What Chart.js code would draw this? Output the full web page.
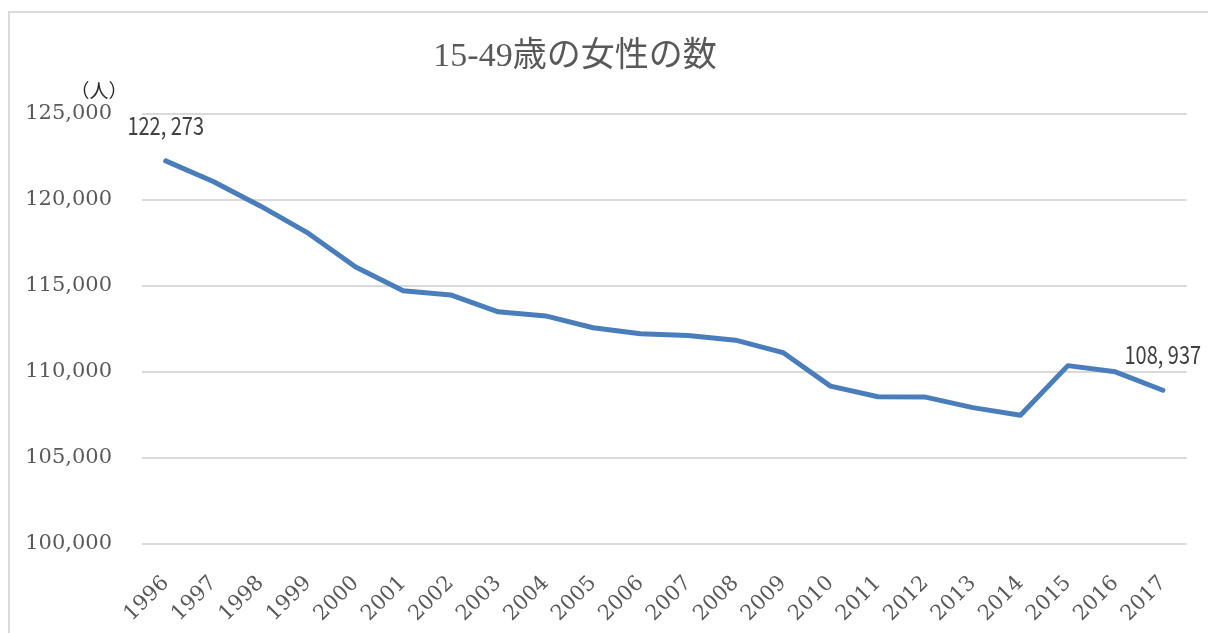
<!DOCTYPE html>
<html>
<head>
<meta charset="utf-8">
<script src="https://cdn.jsdelivr.net/npm/chart.js@4/dist/chart.umd.min.js"></script>
<style>
  html, body { margin: 0; padding: 0; background: #fff; overflow: hidden; }
  .frame { position: absolute; left: 8px; top: 11px; width: 1240px; height: 680px; border: 2px solid #d9d9d9; }
  .chart-box { position: absolute; left: 0; top: 0; width: 1208px; height: 633px; }
</style>
</head>
<body>
<div class="frame"></div>
<div class="chart-box"><canvas id="chart"></canvas></div>
<script>
// 15-49歳の女性の数
const years = ['1996', '1997', '1998', '1999', '2000', '2001', '2002', '2003', '2004', '2005', '2006',
               '2007', '2008', '2009', '2010', '2011', '2012', '2013', '2014', '2015', '2016', '2017'];
const women = [122273, 121080, 119640, 118070, 116100, 114720, 114480, 113500, 113260, 112570, 112230,
               112120, 111850, 111130, 109180, 108560, 108540, 107930, 107490, 110370, 110010, 108937];
const yTicks = [100000, 105000, 110000, 115000, 120000, 125000];

const chartTitle = '15-49歳の女性の数';
const unitLabel = '（人）';

// title + unit text, drawn where the original had them
const textPlugin = {
    id: 'textPlugin',
    afterDraw(chart) {
        const ctx = chart.ctx;
        ctx.save();
        ctx.fillStyle = '#595959';
        ctx.font = '34px "Liberation Serif", "Noto Sans CJK JP"';
        ctx.textAlign = 'center';
        ctx.textBaseline = 'middle';
        ctx.fillText(chartTitle, 575, 57);

        ctx.fillStyle = '#262626';
        ctx.font = '19px "Noto Sans CJK JP"';
        ctx.fillText(unitLabel, 99, 91);
        ctx.restore();
    }
};

// labels for first and last point (narrow gothic look)
const endLabels = {
    id: 'endLabels',
    afterDatasetsDraw(chart) {
        const ctx = chart.ctx;
        const meta = chart.getDatasetMeta(0);
        const data = chart.data.datasets[0].data;
        const sx = 0.8;
        ctx.save();
        ctx.fillStyle = '#404040';
        ctx.font = '25px "Noto Sans CJK JP"';
        ctx.textAlign = 'center';
        ctx.textBaseline = 'alphabetic';
        [0, data.length - 1].forEach((i) => {
            const pt = meta.data[i];
            const txt = data[i].toLocaleString('en-US').replace(',', ', ');
            ctx.save();
            ctx.translate(pt.x, pt.y - 26);
            ctx.scale(sx, 1);
            ctx.fillText(txt, 0, 0);
            ctx.restore();
        });
        ctx.restore();
    }
};

const ctx = document.getElementById('chart').getContext('2d');
new Chart(ctx, {
    type: 'line',
    data: {
        labels: years,
        datasets: [{
            label: '15-49歳の女性の数',
            data: women,
            borderColor: '#4a7ebb',
            backgroundColor: '#4a7ebb',
            borderWidth: 5,
            borderCapStyle: 'round',
            borderJoinStyle: 'round',
            pointRadius: 0,
            tension: 0,
            fill: false,
        }],
    },
    options: {
        responsive: true,
        maintainAspectRatio: false,
        animation: false,
        layout: { padding: { left: 0, right: 15, top: 114, bottom: 0 } },
        plugins: {
            legend: { display: false },
            title: { display: false },
            tooltip: { enabled: false },
        },
        scales: {
            x: {
                type: 'category',
                offset: true,
                grid: { display: false, drawTicks: false },
                border: { display: false },
                ticks: {
                    autoSkip: false,
                    minRotation: 45,
                    maxRotation: 45,
                    padding: 27,
                    color: '#595959',
                    font: { family: '"DejaVu Serif"', size: 21 },
                },
                afterFit(scale) { scale.height = 89; },
            },
            y: {
                min: 100000,
                max: 125000,
                afterBuildTicks(scale) { scale.ticks = yTicks.map((v) => ({ value: v })); },
                grid: { color: '#d9d9d9', lineWidth: 2, drawTicks: false },
                border: { display: false },
                ticks: {
                    padding: 30,
                    color: '#595959',
                    font: { family: '"DejaVu Serif"', size: 21 },
                    callback: (v) => v.toLocaleString('en-US'),
                },
                afterFit(scale) { scale.width = 142; },
            },
        },
    },
    plugins: [textPlugin, endLabels],
});
</script>
</body>
</html>
